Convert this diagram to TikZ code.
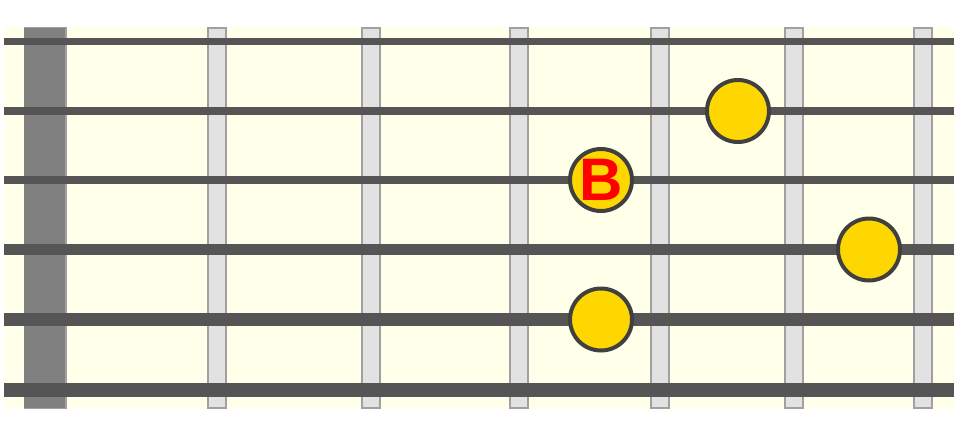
\documentclass[tikz,border=0pt]{standalone}
\usepackage{fontspec}
\setmainfont{Liberation Sans}
\definecolor{bgyellow}{HTML}{FFFFEA}
\definecolor{strcol}{HTML}{555555}
\definecolor{nutcol}{HTML}{808080}
\definecolor{fretfill}{HTML}{E2E2E2}
\definecolor{fretedge}{HTML}{A0A0A0}
\definecolor{dotedge}{HTML}{404040}
\definecolor{dotfill}{HTML}{FFD700}
\begin{document}
\begin{tikzpicture}[x=1pt,y=-1pt,
  fretbar/.style={fill=fretfill,draw=fretedge,line width=2pt},
  gstring/.style={draw=strcol},
  notedot/.style={circle,fill=dotfill,draw=dotedge,line width=4pt,minimum size=62pt,inner sep=0pt,
    text=red,font=\bfseries\fontsize{60}{60}\selectfont}]
\useasboundingbox (0,0) rectangle (954,437);
\fill[bgyellow] (4,27) rectangle (954,409);
% nut
\fill[nutcol] (24,27) rectangle (65,409);
\draw[fretedge,line width=2pt] (66,27) -- (66,409);
\draw[fretedge,line width=1pt] (24,27.5) -- (66,27.5);
\draw[fretedge,line width=1pt] (24,408.5) -- (66,408.5);
% frets
\foreach \x/\n in {217/f1,371/f2,519/f3,660/f4,794/f5,923/f6}
  \draw[fretbar] (\x-9,28) rectangle (\x+9,408);
% strings
\foreach \y/\w in {41.5/7,111/7.5,180/8,249.5/11,319.5/12.5,390/14}
  \draw[gstring,line width=\w pt] (4,\y) -- (954,\y);
% dots
\node[notedot] (d1) at (738,111) {};
\node[notedot] (d2) at (601,180) {B};
\node[notedot] (d3) at (869,249.5) {};
\node[notedot] (d4) at (601,319.5) {};
\end{tikzpicture}
\end{document}
